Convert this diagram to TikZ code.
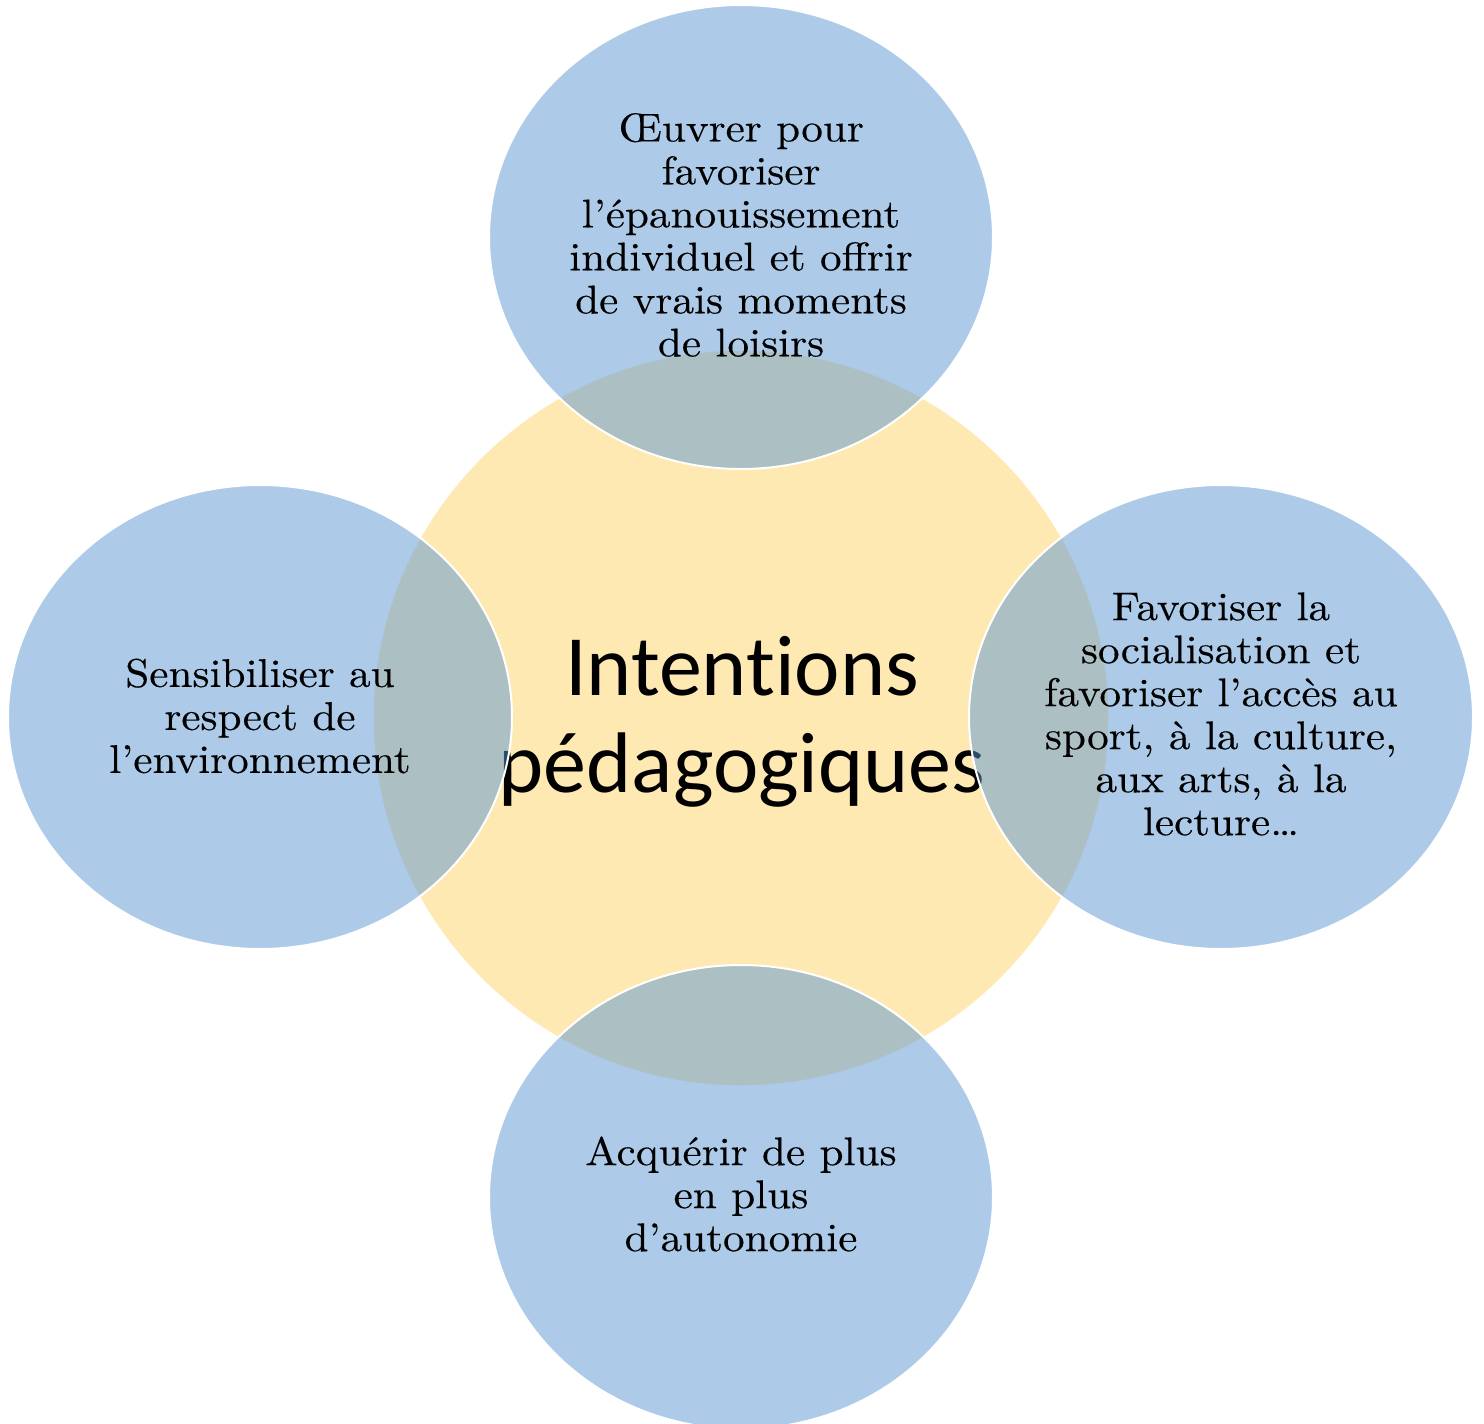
\documentclass[tikz,border=0pt]{standalone}
\usepackage{fontspec}
\usetikzlibrary{shapes.geometric}
\newfontfamily\bodyfont{lmroman10-regular}[Extension=.otf, FakeStretch=1.08, FakeBold=0.3]
\newfontfamily\titlefont{Carlito}[Ligatures=NoCommon]
\definecolor{softyellow}{RGB}{255,233,179}
\definecolor{midblue}{RGB}{91,151,209}
\tikzset{
  hub/.style={circle, fill=softyellow, draw=white, line width=1.5pt, minimum size=736pt, inner sep=0pt},
  petal/.style={ellipse, fill=midblue, fill opacity=0.5, draw=white, draw opacity=1,
    line width=2pt, minimum width=504pt, minimum height=464pt, inner sep=0pt},
  petaltext/.style={align=center, inner sep=0pt, font=\bodyfont\fontsize{40}{43}\selectfont},
  hubtext/.style={align=center, inner sep=0pt, font=\titlefont\fontsize{86}{97}\selectfont}
}
\begin{document}
\begin{tikzpicture}[x=1pt, y=-1pt]
\useasboundingbox (0,0) rectangle (1484,1424);
\node[hub] (center) at (741,718) {};
\node[hubtext] (title) at (742,722) {Intentions\\pédagogiques};
\node[petal] (top) at (741,237) {};
\node[petal] (right) at (1221,717) {};
\node[petal] (bottom) at (741,1197) {};
\node[petal] (left) at (260,717) {};
\node[petaltext] (toptext) at ([yshift=2pt]top.center) {Œuvrer pour\\favoriser\\l’épanouissement\\individuel et offrir\\de vrais moments\\de loisirs};
\node[petaltext] (righttext) at ([yshift=3pt]right.center) {Favoriser la\\socialisation et\\favoriser l’accès au\\sport, à la culture,\\aux arts, à la\\lecture…};
\node[petaltext] (bottomtext) at ([yshift=3pt]bottom.center) {Acquérir de plus\\en plus\\d’autonomie};
\node[petaltext] (lefttext) at ([yshift=1pt]left.center) {Sensibiliser au\\respect de\\l’environnement};
\end{tikzpicture}
\end{document}
